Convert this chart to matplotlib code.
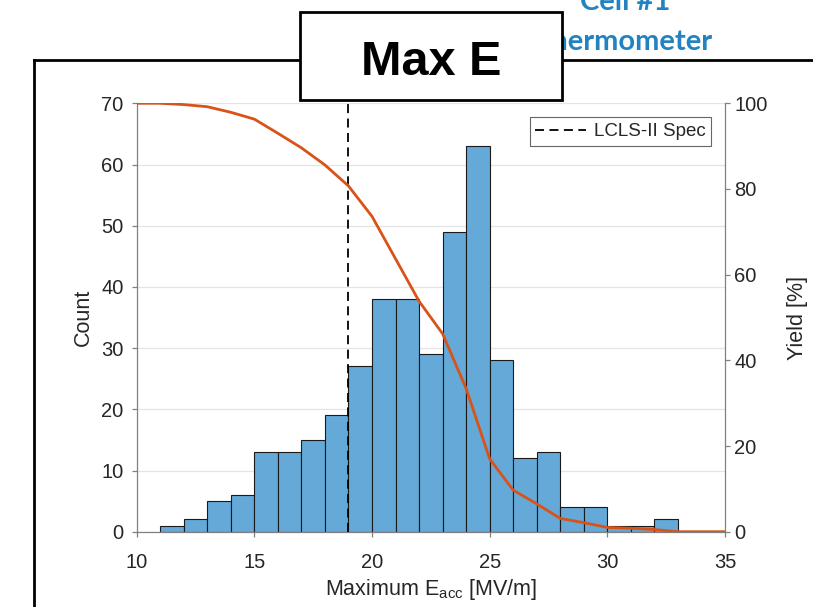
import matplotlib
matplotlib.use('Agg')
import matplotlib.pyplot as plt
from matplotlib.patches import Rectangle
from matplotlib.lines import Line2D

plt.rcParams['font.family'] = ['Liberation Sans', 'DejaVu Sans']

# Histogram of maximum gradient (bins 1 MV/m wide)
bin_left = [11, 12, 13, 14, 15, 16, 17, 18, 19, 20, 21,
            22, 23, 24, 25, 26, 27, 28, 29, 30, 31, 32]
counts = [1, 2, 5, 6, 13, 13, 15, 19, 27, 38, 38,
          29, 49, 63, 28, 12, 13, 4, 4, 1, 1, 2]

# Yield curve (% of cavities reaching at least E)
yield_e = [10, 11, 12, 13, 14, 15, 16, 17, 18, 19, 20, 21, 22,
           23, 24, 25, 26, 27, 28, 29, 30, 31, 32, 33, 34, 35]
yield_pct = [100, 100, 99.7, 99.2, 97.9, 96.3, 93.0, 89.6, 85.6, 80.7, 73.6, 63.7, 53.8,
             46.2, 33.4, 17.0, 9.7, 6.5, 3.1, 2.1, 1.0, 0.8, 0.5, 0, 0, 0]

spec = 19
xticks = [10, 15, 20, 25, 30, 35]
count_ticks = [0, 10, 20, 30, 40, 50, 60, 70]
yield_ticks = [0, 20, 40, 60, 80, 100]

W, H = 813, 607
fig = plt.figure(figsize=(W / 100, H / 100), dpi=100)
ax1 = fig.add_axes([136.7 / W, 1 - 531.7 / H, (725 - 136.7) / W, (531.7 - 103.3) / H])
ax2 = ax1.twinx()

tick_col = '#262626'
spine_col = '#808080'

ax1.bar(bin_left, counts, width=1, align='edge', color='#64a9d8',
        edgecolor='#1a1a1a', linewidth=0.8, zorder=2)
ax1.axvline(spec, color='k', ls='--', lw=1.3, dashes=(5, 3), zorder=3,
            label='LCLS-II Spec')
ax1.set_xlim(10, 35)
ax1.set_ylim(0, 70)
ax1.set_xticks(xticks)
ax1.set_yticks(count_ticks)
ax1.yaxis.grid(True, color='#e4e4e4', lw=0.9)
ax1.set_axisbelow(True)

ax2.plot(yield_e, yield_pct, color='#d95319', lw=2.0, zorder=4)
ax2.set_ylim(0, 100)
ax2.set_yticks(yield_ticks)

for ax in (ax1, ax2):
    ax.spines['top'].set_visible(False)
    for s in ax.spines.values():
        s.set_color(spine_col)
        s.set_linewidth(0.9)
    ax.tick_params(direction='out', length=3.5, width=0.9, color=spine_col,
                   labelcolor=tick_col, labelsize=14.5, pad=3)
ax1.tick_params(axis='x', pad=11.5)
ax1.tick_params(axis='y', pad=6)
ax1.spines['right'].set_visible(False)
ax2.spines['left'].set_visible(False)
ax2.spines['bottom'].set_visible(False)

ax1.set_xlabel('Maximum E$_{\\mathregular{acc}}$ [MV/m]', fontsize=15.5, color=tick_col, labelpad=4)
ax1.set_ylabel('Count', fontsize=15.5, color=tick_col, labelpad=5)
ax2.set_ylabel('Yield [%]', fontsize=15.5, color=tick_col, labelpad=14)

leg = ax2.legend(handles=[Line2D([], [], color='k', ls='--', lw=1.3, dashes=(5, 3))],
                 labels=['LCLS-II Spec'], loc='upper right', fontsize=13.5,
                 fancybox=False, framealpha=1, edgecolor='#666666',
                 handlelength=2.7, borderaxespad=0.75, borderpad=0.3,
                 handletextpad=0.4)
leg.get_frame().set_linewidth(0.8)
for t in leg.get_texts():
    t.set_color(tick_col)

# slide decoration: outer frame, title box, blue caption
fig.add_artist(Line2D([34 / W, 34 / W], [0, 1 - 60 / H], color='k', lw=2, zorder=4))
fig.add_artist(Line2D([34 / W, 1], [1 - 60 / H, 1 - 60 / H], color='k', lw=2, zorder=4))
fig.text(625 / W, 1 - 10 / H, 'Cell #1', fontsize=21, fontweight='bold', color='#2383c2',
         family=['Lato', 'DejaVu Sans'], ha='center', va='baseline', zorder=5)
fig.text(713 / W, 1 - 50 / H, 'Thermometer', fontsize=21, fontweight='bold', color='#2383c2',
         family=['Lato', 'DejaVu Sans'], ha='right', va='baseline', zorder=5)
fig.add_artist(Rectangle((300 / W, 1 - 100 / H), 262 / W, 88 / H, facecolor='white',
                         edgecolor='k', lw=2, zorder=6))
fig.text(431 / W, 1 - 75 / H, 'Max E', fontsize=35, fontweight='bold', color='k',
         ha='center', va='baseline', zorder=7)

fig.savefig('out.png', dpi=100)
